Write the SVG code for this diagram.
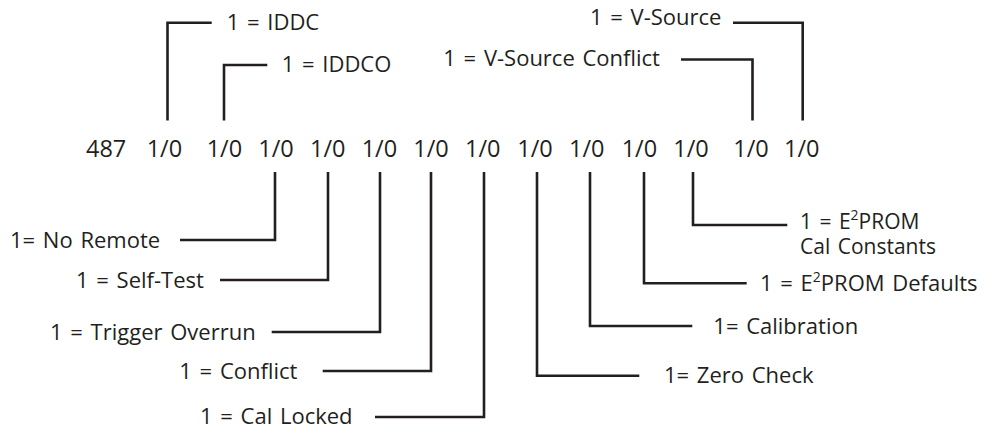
<svg xmlns="http://www.w3.org/2000/svg" width="993" height="430" viewBox="0 0 993 430">
<style>
text{font-family:"Open Sans","Liberation Sans",sans-serif;font-size:22px;font-weight:400;fill:#231f20;word-spacing:2px}
.reg text{font-size:23.5px;word-spacing:0}
.sup{font-size:14px}
.two{font-size:21px}
#connectors path{fill:none;stroke:#231f20;stroke-width:2.6;stroke-linejoin:miter;stroke-linecap:butt}
</style>
<rect width="993" height="430" fill="#ffffff"/>
<g id="connectors">
<path d="M167.5 120.5V22.7H211.7"/>
<path d="M224 120.5V65H267.3"/>
<path d="M752.5 120.5V59.5H681"/>
<path d="M802.7 120.5V22.7H733"/>
<path d="M275 172V240H180"/>
<path d="M328 172V280H220"/>
<path d="M380 172V332H271.7"/>
<path d="M431 172V371H322.7"/>
<path d="M484 172V417H375"/>
<path d="M537 172V375.7H639.3"/>
<path d="M590 172V326H692.3"/>
<path d="M644 172V283.3H746.7"/>
<path d="M693 172V225H787.3"/>
</g>
<g id="register" class="reg">
<text x="86" y="157">487</text>
<text x="146.7" y="157">1/0</text>
<text x="206.7" y="157">1/0</text>
<text x="258.3" y="157">1/0</text>
<text x="310" y="157">1/0</text>
<text x="361.7" y="157">1/0</text>
<text x="413.3" y="157">1/0</text>
<text x="465" y="157">1/0</text>
<text x="517.3" y="157">1/0</text>
<text x="569" y="157">1/0</text>
<text x="621.7" y="157">1/0</text>
<text x="673.3" y="157">1/0</text>
<text x="733.3" y="157">1/0</text>
<text x="784" y="157">1/0</text>
</g>
<g id="iddc"><text x="226.7" y="30">1 = IDDC</text></g>
<g id="iddco"><text x="281.7" y="72">1 = IDDCO</text></g>
<g id="vsource"><text x="590" y="25">1 = V-Source</text></g>
<g id="vsource-conflict"><text x="443.3" y="66">1 = V-Source Conflict</text></g>
<g id="no-remote"><text x="10" y="247.5">1= No Remote</text></g>
<g id="self-test"><text x="76" y="288">1 = Self-Test</text></g>
<g id="trigger-overrun"><text x="50" y="339.5">1 = Trigger Overrun</text></g>
<g id="conflict"><text x="179.3" y="378.5">1 = Conflict</text></g>
<g id="cal-locked"><text x="200" y="423.5">1 = Cal Locked</text></g>
<g id="zero-check"><text x="664" y="383">1= Zero Check</text></g>
<g id="calibration"><text x="713.3" y="333.5">1= Calibration</text></g>
<g id="e2prom-defaults"><text x="760" y="290.5">1 = E<tspan class="sup" dy="-9">2</tspan><tspan dy="9">PROM Defaults</tspan></text></g>
<g id="e2prom-cal"><text class="two" x="800" y="228.5">1 = E<tspan class="sup" dy="-9">2</tspan><tspan dy="9">PROM</tspan><tspan x="800" dy="25">Cal Constants</tspan></text></g>
</svg>
